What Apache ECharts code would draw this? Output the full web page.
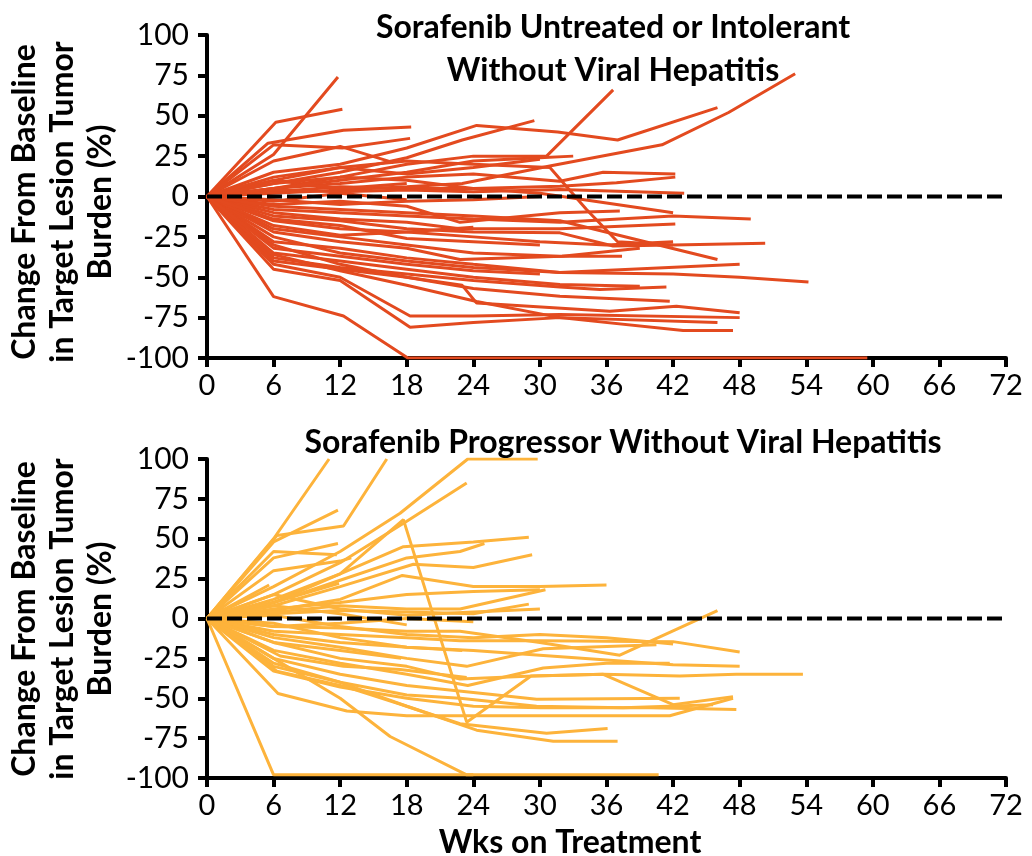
<!DOCTYPE html>
<html lang="en">
<head>
<meta charset="UTF-8">
<title>Spider plots</title>
<script src="https://cdn.jsdelivr.net/npm/echarts@6/dist/echarts.min.js"></script>
<style>
  html, body { margin: 0; padding: 0; background: #fff; }
  #chart { width: 1032px; height: 856px; }
</style>
</head>
<body>
<div id="chart"></div>
<script>
// week ticks and y ticks
var weekTicks = [0, 6, 12, 18, 24, 30, 36, 42, 48, 54, 60, 66, 72];
var changeTicks = [-100, -75, -50, -25, 0, 25, 50, 75, 100];

// top panel: sorafenib untreated or intolerant, one entry per patient, [week, % change]
var untreated = [
  [[0,0],[6,26],[11.8,74]],
  [[0,0],[6.2,46],[12.2,54]],
  [[0,0],[5.5,33],[12.3,41],[18.4,43]],
  [[0,0],[6,32],[12.2,30],[18.3,36]],
  [[0,0],[6,22],[12,31],[16.8,21]],
  [[0,0],[6,15],[12,20],[18,30],[24.3,44],[31.6,40],[37,35],[46,55]],
  [[0,0],[6,8],[12,15],[18,24],[23,35],[29.5,47]],
  [[0,0],[6,5],[12,12],[18,20],[24,25],[30.6,25],[36.6,66]],
  [[0,0],[6,2],[12,4],[18,6],[23,8],[31,19],[41,32],[47,52],[53,76]],
  [[0,0],[6,5],[12,8],[18,12],[24,14],[31.8,9.5],[35.7,15],[42.2,14]],
  [[0,0],[6,3],[12,6],[18,5],[24,5],[31.8,6.4],[36.9,8.5],[42.2,12]],
  [[0,0],[6,4],[12,3],[18,4],[24,3],[31.8,4.3],[43,2]],
  [[0,0],[6,10],[12,18],[18,22],[24,20],[30.9,18],[34.2,-8],[37,-28],[42,-30]],
  [[0,0],[6,-5],[12,-3],[18,-6],[22.8,-16],[31.8,-10],[37.2,-9]],
  [[0,0],[6,-8],[12,-10],[18,-12],[24,-14],[31.8,-16],[42,-12],[49,-14]],
  [[0,0],[6,-10],[12,-14],[18,-16],[22.8,-20],[31.8,-20],[42.2,-17]],
  [[0,0],[6,-12],[12,-15],[18,-20],[24,-22],[31.8,-22.5],[36.6,-30.7],[42,-30],[50.3,-29]],
  [[0,0],[6,-6],[12,-8],[18,-10],[24,-12],[31.8,-15],[46,-39]],
  [[0,0],[6,-20],[12,-25],[18,-30],[24,-35],[31.8,-37],[37.4,-37]],
  [[0,0],[6,-22],[12,-28],[18,-32],[22.8,-39],[32,-37],[39,-32]],
  [[0,0],[6,-25],[12,-35],[18,-40],[24,-44],[31.8,-47],[42,-48],[48,-50],[54.2,-53]],
  [[0,0],[6,-28],[12,-32],[18,-38],[24,-42],[31.8,-47],[48,-42]],
  [[0,0],[6,-35],[12,-40],[18,-45],[24,-50],[31.8,-54.5],[39,-55.5]],
  [[0,0],[6,-38],[12,-44],[18,-48],[24,-52],[31.8,-56],[35.4,-57.6],[41.4,-56]],
  [[0,0],[6,-40],[12,-45],[18,-50],[23,-55],[24.3,-66],[36.3,-71],[42.3,-68],[48,-72]],
  [[0,0],[6,-30],[12,-42],[18,-50],[24,-57],[31.8,-61.7],[41.7,-64.8]],
  [[0,0],[6,-42],[12,-50],[18.3,-74],[24,-74],[31.8,-73],[48,-75]],
  [[0,0],[6,-45],[12,-52],[18.3,-81],[24,-78],[31.8,-75],[46,-78]],
  [[0,0],[6,-36],[12,-46],[18,-55],[24.3,-65],[31.8,-75],[42.9,-83],[47.4,-83]],
  [[0,0],[6,-62],[12.3,-74],[18.1,-100],[30,-100],[45,-100],[59.5,-100]],
  [[0,0],[6,-15],[12,-20],[18,-22],[24,-25],[30,-28],[36,-30],[42,-28]],
  [[0,0],[6,10],[12,5],[18,8]],
  [[0,0],[6,-3],[12,2],[18,-2]],
  [[0,0],[6,-18],[12,-24],[18,-22],[24,-19]],
  [[0,0],[6,12],[12,18],[18,14],[24,18],[30,23]],
  [[0,0],[6,5],[12,10],[18,15],[24,22],[30,24],[33,25]],
  [[0,0],[6,-2],[12,-5],[18,-3],[24,-2],[30,0]],
  [[0,0],[6,-14],[12,-18],[18,-26],[24,-28],[30,-30]],
  [[0,0],[6,-32],[12,-37],[18,-42],[24,-46],[30,-48]],
  [[0,0],[6,8],[12,12],[18,10],[24,5],[30,2],[36,-4],[42,-10]]
];

// bottom panel: sorafenib progressor
var progressor = [
  [[0,0],[6,50],[11,100]],
  [[0,0],[6.3,52],[12.3,58],[16.2,100]],
  [[0,0],[6,48],[11.8,68]],
  [[0,0],[6,20],[12,42],[17.4,66],[23.5,100],[29.8,100]],
  [[0,0],[6,15],[12,35],[18,61],[23.4,85]],
  [[0,0],[6,10],[12,28],[17.7,62],[23.4,-65],[29.2,-36],[35.7,-35],[42,-54],[47.4,-49]],
  [[0,0],[6,42],[11.7,40]],
  [[0,0],[6,38],[11.8,47]],
  [[0,0],[6,30],[12,36],[13,38]],
  [[0,0],[6,10],[11.9,22]],
  [[0,0],[5.6,21]],
  [[0,0],[6,12],[12,28],[17.7,45],[24,48],[29,51]],
  [[0,0],[6,10],[12,24],[18,38],[22.8,42],[25,47]],
  [[0,0],[6,8],[12,20],[18.6,34],[24,32],[29.3,40]],
  [[0,0],[6,5],[12,12],[17.6,27],[24,20],[30,20],[36,21]],
  [[0,0],[6,6],[12,10],[18,15],[24,17],[30,18]],
  [[0,0],[6,4],[12,8],[18,6],[22.8,6],[30.5,18]],
  [[0,0],[6,3],[12,5],[18,4],[24,3],[29,9]],
  [[0,0],[6,-5],[12,-6],[18,-8],[22.8,-8],[30,-15],[37.2,-23],[46,5]],
  [[0,0],[6,-8],[12,-10],[18,-12],[22.8,-14],[30,-14],[42,-14.5],[48,-21]],
  [[0,0],[6,-12],[12,-18],[18,-25],[23.4,-30],[30.3,-19],[40.5,-16.5]],
  [[0,0],[6,-10],[12,-15],[18,-18],[24,-20],[30,-23],[42,-29],[48,-30]],
  [[0,0],[6,-20],[12,-28],[18,-35],[23.5,-42],[30.3,-31],[36,-28],[41.7,-28]],
  [[0,0],[6,-15],[12,-25],[18,-30],[22.8,-38],[29.4,-36],[35.7,-35],[42.6,-36],[47.7,-35],[53.7,-35]],
  [[0,0],[6,-25],[12,-35],[18,-42],[25.5,-47.5],[29.7,-50.6],[42.6,-50]],
  [[0,0],[6,-30],[12,-40],[18,-48],[22.8,-50],[29.7,-55],[37.5,-56],[45.6,-54]],
  [[0,0],[6.4,-47],[12.6,-58],[18,-61],[24,-61],[29.7,-61],[41.7,-61],[47.4,-50]],
  [[0,0],[6,-33],[12,-43],[18,-50],[24,-55],[30,-56],[40,-56],[47.7,-57]],
  [[0,0],[6,-28],[12,-40],[18,-55],[22.8,-66],[30.6,-72],[36.1,-69]],
  [[0,0],[6.3,-33],[12.6,-43],[18,-55],[24.3,-70],[31.2,-77],[37,-77]],
  [[0,0],[6,-98],[12,-98],[18,-98],[24,-98]],
  [[0,0],[6,-25],[12,-50],[16.5,-74],[23.4,-98],[30,-98],[36,-98],[40.7,-98]],
  [[0,0],[6.6,-23.5],[12.3,-30],[17.4,-32],[23.4,-37]],
  [[0,0],[6,-5],[12,-3],[18,0],[24,-2]],
  [[0,0],[6,8],[12,3],[18,-4]],
  [[0,0],[6,-3],[12,-12],[18,-18],[23,-20]],
  [[0,0],[6,15],[12,6],[18,2],[24,4],[30,6]],
  [[0,0],[6,-15],[12,-20],[17.5,-25]],
  [[0,0],[6,2],[12,-5],[18,-10],[24,-12],[30,-10],[36,-12],[42,-16]]
];

var baseline = [[0, 0], [72, 0]];
var yTitle = 'Change From Baseline\nin Target Lesion Tumor\nBurden (%)';

var redColor = '#E34A1F';
var orangeColor = '#FDB33B';
var font = 'Lato, "Open Sans", sans-serif';

function makeX(idx) {
  return {
    type: 'value', gridIndex: idx, min: 0, max: 72, interval: 6,
    axisLine: { onZero: false, lineStyle: { color: '#000', width: 4 } },
    axisTick: { length: 9, lineStyle: { color: '#000', width: 4 } },
    axisLabel: { color: '#000', fontFamily: font, fontSize: 29, margin: 13 },
    splitLine: { show: false }
  };
}

function makeY(idx) {
  return {
    type: 'value', gridIndex: idx, min: -100, max: 100, interval: 25,
    axisLine: { lineStyle: { color: '#000', width: 4 } },
    axisTick: { length: 9, lineStyle: { color: '#000', width: 4 } },
    axisLabel: { color: '#000', fontFamily: font, fontSize: 30, margin: 18 },
    splitLine: { show: false }
  };
}

// rotated y axis titles
function yName(cy) {
  return {
    type: 'text', x: 63, y: cy, rotation: Math.PI / 2,
    style: { text: yTitle, fill: '#000', fontFamily: font, fontWeight: 'bold', fontSize: 32,
      lineHeight: 38, align: 'center', verticalAlign: 'middle' }
  };
}

var series = [];
untreated.forEach(function (pts) {
  series.push({ type: 'line', xAxisIndex: 0, yAxisIndex: 0, data: pts, showSymbol: false,
    lineStyle: { color: redColor, width: 3 }, z: 2 });
});
progressor.forEach(function (pts) {
  series.push({ type: 'line', xAxisIndex: 1, yAxisIndex: 1, data: pts, showSymbol: false,
    lineStyle: { color: orangeColor, width: 3 }, z: 2 });
});
[0, 1].forEach(function (i) {
  series.push({ type: 'line', xAxisIndex: i, yAxisIndex: i, data: baseline, showSymbol: false,
    lineStyle: { color: '#000', width: 4, type: [15, 5] }, z: 5 });
});

var titleStyle = { color: '#000', fontFamily: font, fontWeight: 'bold', fontSize: 32, lineHeight: 43 };

var chart = echarts.init(document.getElementById('chart'), null, { renderer: 'canvas' });
chart.setOption({
  animation: false,
  title: [
    { text: 'Sorafenib Untreated or Intolerant\nWithout Viral Hepatitis', left: 608, top: 1, textAlign: 'center',
      textStyle: titleStyle },
    { text: 'Sorafenib Progressor Without Viral Hepatitis', left: 618, top: 416, textAlign: 'center',
      textStyle: titleStyle },
    { text: 'Wks on Treatment', left: 565, top: 816, textAlign: 'center',
      textStyle: titleStyle }
  ],
  graphic: [yName(202), yName(619)],
  grid: [
    { left: 207, top: 35, width: 799, height: 323, outerBoundsMode: 'none', containLabel: false },
    { left: 207, top: 459, width: 799, height: 319, outerBoundsMode: 'none', containLabel: false }
  ],
  xAxis: [makeX(0), makeX(1)],
  yAxis: [makeY(0), makeY(1)],
  series: series
});
</script>
</body>
</html>
